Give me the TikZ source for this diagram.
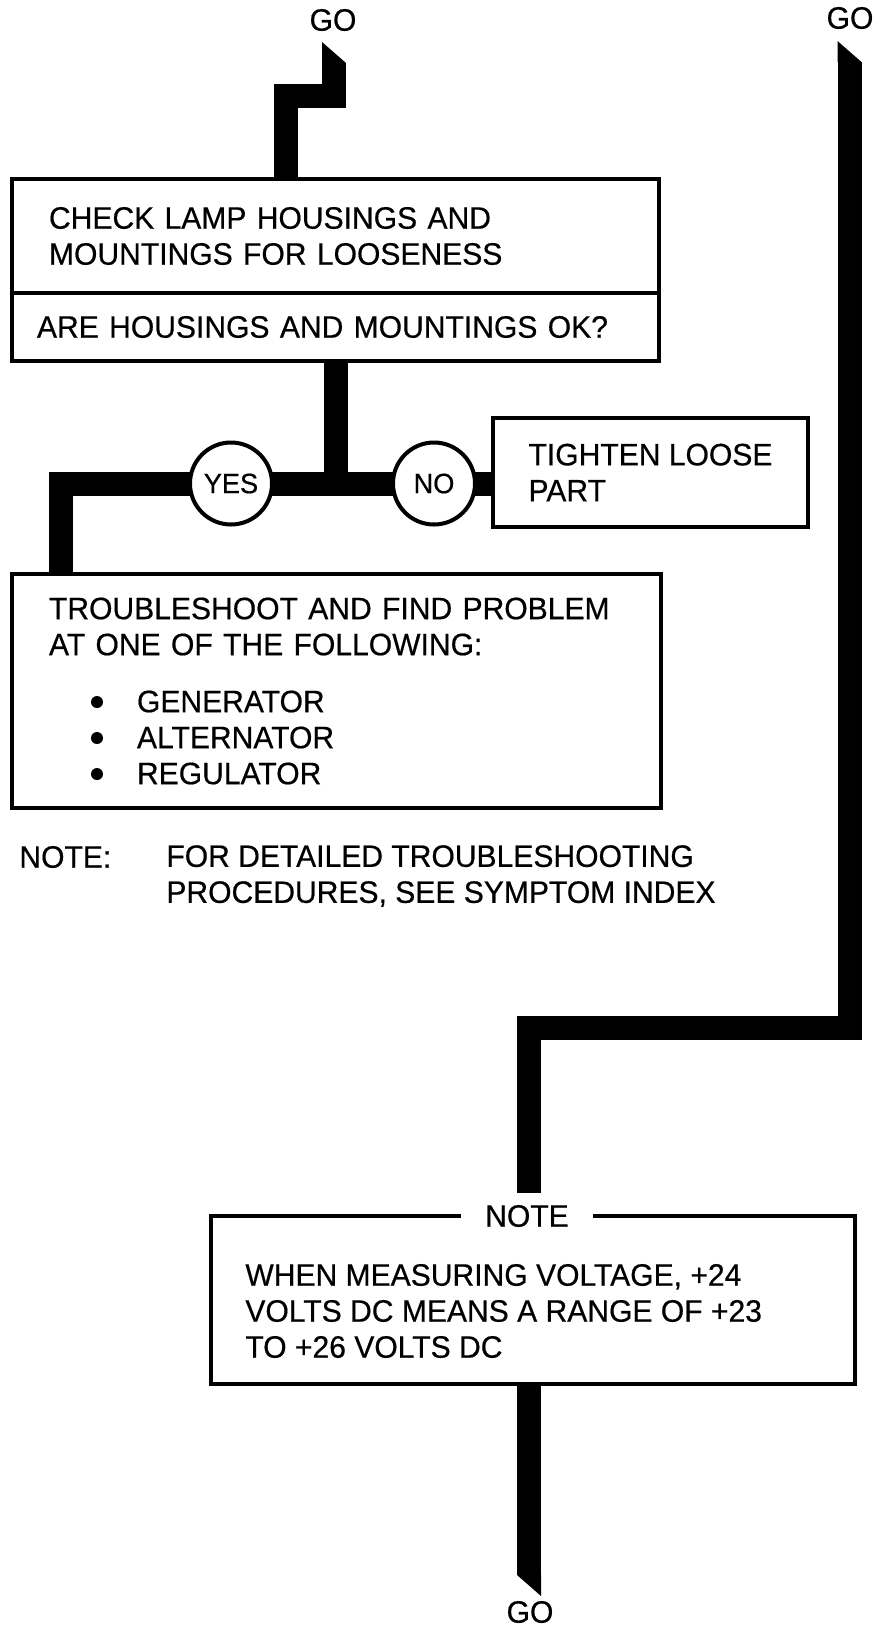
\documentclass[tikz,border=0pt]{standalone}
\usepackage{fontspec}
\setmainfont[FakeStretch=0.97,FakeBold=0.5]{Liberation Sans}
\usetikzlibrary{positioning,backgrounds}
\hyphenpenalty=10000
\begin{document}
\begin{tikzpicture}[x=0.5pt, y=-0.5pt,
    txt/.style={font=\fontsize{15.5}{18}\selectfont},
    plain/.style={txt, inner sep=0pt, anchor=west, align=left},
    box/.style={txt, draw, line width=1.6pt, rectangle, align=left, inner ysep=0pt, outer sep=0pt},
    answer/.style={circle, draw, line width=2pt, fill=white, minimum size=41pt, inner sep=0pt, font=\fontsize{14}{16}\selectfont},
    flow/.style={line width=12pt, line cap=butt, line join=miter}]

    \useasboundingbox (0,0) rectangle (874,1630);

    % 1. GO labels
    \node[txt, inner sep=0pt] (gotl) at (333,20) {GO};
    \node[txt, inner sep=0pt] (gotr) at (850,18) {GO};
    \node[txt, inner sep=0pt] (gobot) at (530,1612) {GO};

    % 2. check and question
    \node[box, minimum width=323.5pt, minimum height=57pt, text width=286.5pt, inner xsep=18.5pt] (check) at (335.5,236) {CHECK LAMP HOUSINGS AND\\MOUNTINGS FOR LOOSENESS};
    \node[box, minimum width=323.5pt, minimum height=34pt, text width=298.5pt, inner xsep=12.5pt, below=0pt of check] (ask) {ARE HOUSINGS AND MOUNTINGS OK?};

    % 3. answers
    \node[answer] (yes) at (231,483.5) {YES};
    \node[answer] (no) at (434,483.5) {NO};
    \node[box, minimum width=157.5pt, minimum height=54.5pt] (tighten) at (650.5,472.5) {TIGHTEN LOOSE\\PART};
    \node[box, minimum width=324.5pt, minimum height=117pt, text width=287.5pt, inner xsep=18.5pt] (trouble) at (336.5,691) {TROUBLESHOOT AND FIND PROBLEM\\AT ONE OF THE FOLLOWING:\\[10.5pt]\hspace*{44pt}GENERATOR\\\hspace*{44pt}ALTERNATOR\\\hspace*{44pt}REGULATOR};
    \foreach \y in {702,738,774}
        \fill (97,\y) circle (3pt);

    % 4. notes
    \node[plain] (notehd) at (19,857) {NOTE:};
    \node[plain] (notebody) at (166,876) {FOR DETAILED TROUBLESHOOTING\\PROCEDURES, SEE SYMPTOM INDEX};
    \node[box, minimum width=322pt, minimum height=84pt] (notebox) at (533,1300) {};
    \node[txt, fill=white, inner xsep=12pt, inner ysep=6pt] (notelbl) at (527,1216) {NOTE};
    \node[plain] (notetxt) at (245,1311) {WHEN MEASURING VOLTAGE, +24\\VOLTS DC MEANS A RANGE OF +23\\TO +26 VOLTS DC};

    % 5. flow lines
    \begin{scope}[on background layer]
    \coordinate (tlend) at (334,63);
    \draw[flow] (tlend) |- (285.5,95.5) -- (check.north -| 285.5,0);
    \fill[shift={(tlend)}] (-12,0) -- (12,0) -- (-12,-21) -- cycle;

    \coordinate (trend) at (849.5,62);
    \draw[flow] (trend) |- (529,1027.5) -- (notelbl.north -| 529,0);
    \fill[shift={(trend)}] (-12,0) -- (12,0) -- (-12,-21) -- cycle;

    \draw[flow] (ask.south) |- (yes.center);
    \draw[flow] (ask.south) |- (no.center) -- (tighten.west |- no.center);
    \draw[flow] (yes.center) -| (trouble.north -| 61,0);

    \coordinate (bend) at (529,1575);
    \draw[flow] (notebox.south -| bend) -- (bend);
    \fill[shift={(bend)}] (-12,0) -- (12,0) -- (12,21) -- cycle;
    \end{scope}
\end{tikzpicture}
\end{document}
